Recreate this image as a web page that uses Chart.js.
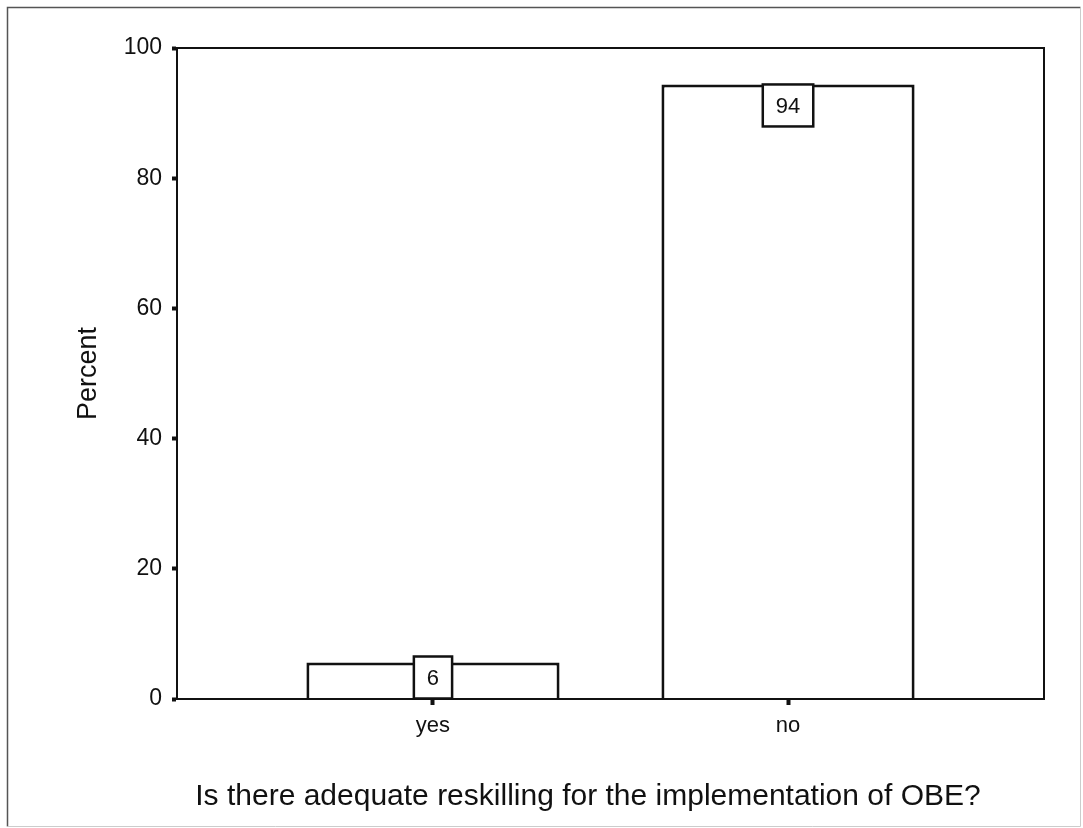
<!DOCTYPE html>
<html>
<head>
<meta charset="utf-8">
<script src="https://cdn.jsdelivr.net/npm/chart.js@4/dist/chart.umd.min.js"></script>
<style>
  html, body { margin: 0; padding: 0; background: #ffffff; }
  #wrap { position: relative; width: 1083px; height: 828px; }
</style>
</head>
<body>
<div id="wrap"><canvas id="c" width="1083" height="828"></canvas></div>
<script>
// ---- data ----
const categories = ['yes', 'no'];
const percents = [5.6, 94.4];
const valueLabels = ['6', '94'];
const yTicks = [0, 20, 40, 60, 80, 100];
const yTitle = 'Percent';
const xTitle = 'Is there adequate reskilling for the implementation of OBE?';

const FONT = '"Liberation Sans", Arial, Helvetica, sans-serif';
const INK = '#111111';

const points = categories.map((c, i) => ({ x: i + 1, y: percents[i] }));

const framePlugin = {
  id: 'frame',
  beforeDraw(chart) {
    const ctx = chart.ctx;
    ctx.save();
    ctx.fillStyle = '#ffffff';
    ctx.fillRect(0, 0, chart.width, chart.height);
    ctx.lineWidth = 1.5;
    ctx.strokeStyle = '#555555';
    ctx.beginPath();
    ctx.moveTo(7.5, 826.5); ctx.lineTo(7.5, 7.5); ctx.lineTo(1080.5, 7.5);
    ctx.stroke();
    ctx.strokeStyle = '#cccccc';
    ctx.lineWidth = 1;
    ctx.beginPath();
    ctx.moveTo(1080.5, 7.5); ctx.lineTo(1080.5, 826.5); ctx.lineTo(7.5, 826.5);
    ctx.stroke();
    ctx.restore();
  },
  afterDatasetsDraw(chart) {
    const ctx = chart.ctx;
    const a = chart.chartArea;
    ctx.save();
    ctx.strokeStyle = INK;
    ctx.lineWidth = 2;
    ctx.strokeRect(a.left, a.top, a.right - a.left, a.bottom - a.top);
    const meta = chart.getDatasetMeta(0);
    ctx.font = '22px ' + FONT;
    ctx.textAlign = 'center';
    ctx.textBaseline = 'middle';
    meta.data.forEach((bar, i) => {
      const txt = valueLabels[i];
      const w = ctx.measureText(txt).width + 26;
      const h = 42;
      const top = Math.min(bar.y, bar.base - h);
      const left = bar.x - w / 2;
      ctx.fillStyle = '#ffffff';
      ctx.fillRect(left, top, w, h);
      ctx.lineWidth = 2.5;
      ctx.strokeStyle = INK;
      ctx.strokeRect(left, top, w, h);
      ctx.fillStyle = INK;
      ctx.fillText(txt, bar.x, top + h / 2 + 1);
    });
    ctx.font = '30px ' + FONT;
    ctx.fillStyle = INK;
    ctx.textAlign = 'center';
    ctx.textBaseline = 'middle';
    ctx.fillText(xTitle, 588, 797);
    ctx.restore();
  }
};

new Chart(document.getElementById('c'), {
  type: 'bar',
  data: {
    datasets: [{
      label: 'Percent',
      data: points,
      backgroundColor: '#ffffff',
      borderColor: INK,
      borderWidth: 3,
      borderSkipped: 'start',
      barPercentage: 0.713,
      categoryPercentage: 1.0
    }]
  },
  options: {
    responsive: false,
    animation: false,
    devicePixelRatio: 1,
    layout: { padding: { top: 48, right: 39, bottom: 0, left: 0 } },
    plugins: {
      legend: { display: false },
      tooltip: { enabled: false },
      title: { display: false }
    },
    scales: {
      x: {
        type: 'linear',
        offset: false,
        min: 0.279,
        max: 2.721,
        afterBuildTicks(scale) {
          scale.ticks = categories.map((c, i) => ({ value: i + 1 }));
        },
        afterFit(scale) { scale.height = 129; },
        ticks: {
          callback: (v) => categories[Math.round(v) - 1] || '',
          font: { family: FONT, size: 22 },
          color: INK,
          padding: 8,
          maxRotation: 0,
          autoSkip: false
        },
        grid: {
          offset: false,
          drawOnChartArea: false,
          drawTicks: true,
          tickLength: 6,
          tickWidth: 4,
          tickColor: INK
        },
        border: { display: true, color: INK, width: 2 }
      },
      y: {
        min: 0,
        max: 100,
        afterBuildTicks(scale) {
          scale.ticks = yTicks.map(v => ({ value: v }));
        },
        afterFit(scale) { scale.width = 177; },
        ticks: {
          font: { family: FONT, size: 23 },
          color: INK,
          padding: 10
        },
        grid: {
          drawOnChartArea: false,
          drawTicks: true,
          tickLength: 5,
          tickWidth: 4,
          tickColor: INK
        },
        border: { display: true, color: INK, width: 2 },
        title: {
          display: true,
          text: yTitle,
          font: { family: FONT, size: 27 },
          color: INK,
          padding: { top: 72, bottom: 0 }
        }
      }
    }
  },
  plugins: [framePlugin]
});
</script>
</body>
</html>
